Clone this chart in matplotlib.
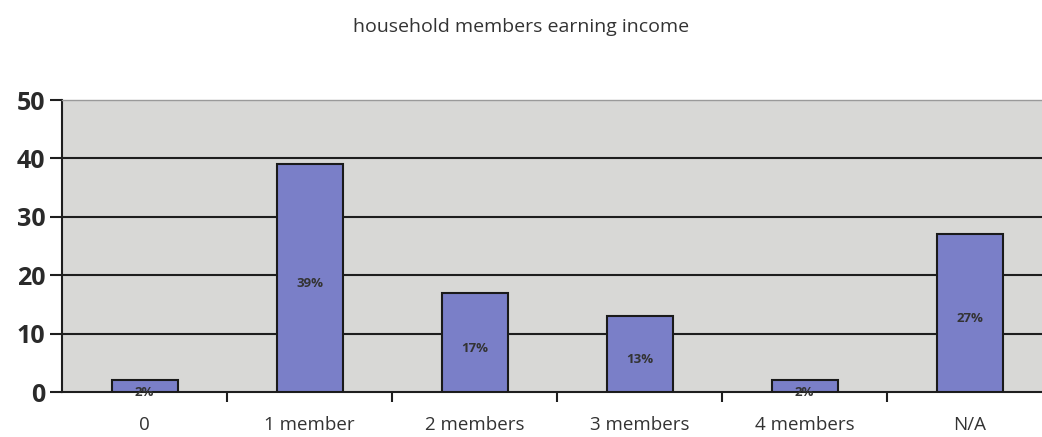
import matplotlib.pyplot as plt
from matplotlib.ticker import FixedLocator

categories = ["0", "1 member", "2 members", "3 members", "4 members", "N/A"]
values = [2, 39, 17, 13, 2, 27]
labels = ["2%", "39%", "17%", "13%", "2%", "27%"]

plt.rcParams['font.family'] = ['Open Sans', 'DejaVu Sans']

fig = plt.figure(figsize=(10.42, 4.37), dpi=100)
fig.patch.set_facecolor('white')
# axes runs slightly past the right edge of the figure
ax = fig.add_axes([62 / 1042, 45 / 437, 990 / 1042, 292 / 437])
ax.set_facecolor('#d8d8d6')

x = range(len(categories))
ax.bar(x, values, width=0.4, color='#7a7fc8', edgecolor='#1a1a1a', linewidth=1.5, zorder=3)

# value labels sit a little below the middle of each bar
for xi, v, lab in zip(x, values, labels):
    ax.text(xi, v / 2 - 1, lab, ha='center', va='center',
            fontsize=9.5, fontweight='bold', color='#333333', zorder=4)

ax.set_xlim(-0.5, len(categories) - 0.5)
ax.set_ylim(0, 50)
ax.set_yticks([0, 10, 20, 30, 40, 50])
ax.set_yticklabels(['0', '10', '20', '30', '40', '50'], fontsize=18, fontweight='bold', color='#2a2a2a')

for y in [10, 20, 30, 40]:
    ax.axhline(y, color='#1e1e1e', linewidth=1.5, zorder=2)

ax.set_xticks(list(x))
ax.set_xticklabels(categories, fontsize=13.5, color='#333333')
ax.tick_params(axis='x', length=0, pad=17)
ax.xaxis.set_minor_locator(FixedLocator([i + 0.5 for i in range(len(categories) - 1)]))
ax.tick_params(axis='x', which='minor', length=7, width=1.5, color='#1e1e1e', direction='out')
ax.tick_params(axis='y', length=9, width=1.5, color='#1e1e1e', direction='out', pad=3)

ax.spines['left'].set_color('#1e1e1e')
ax.spines['left'].set_linewidth(1.5)
ax.spines['bottom'].set_color('#1e1e1e')
ax.spines['bottom'].set_linewidth(1.5)
ax.spines['top'].set_color('#9a9a9a')
ax.spines['top'].set_linewidth(1)
ax.spines['right'].set_visible(False)

fig.text(0.5, 1 - 27 / 437, 'household members earning income', ha='center', va='center',
         fontsize=14, color='#333333')

fig.savefig('out.png', dpi=100)
